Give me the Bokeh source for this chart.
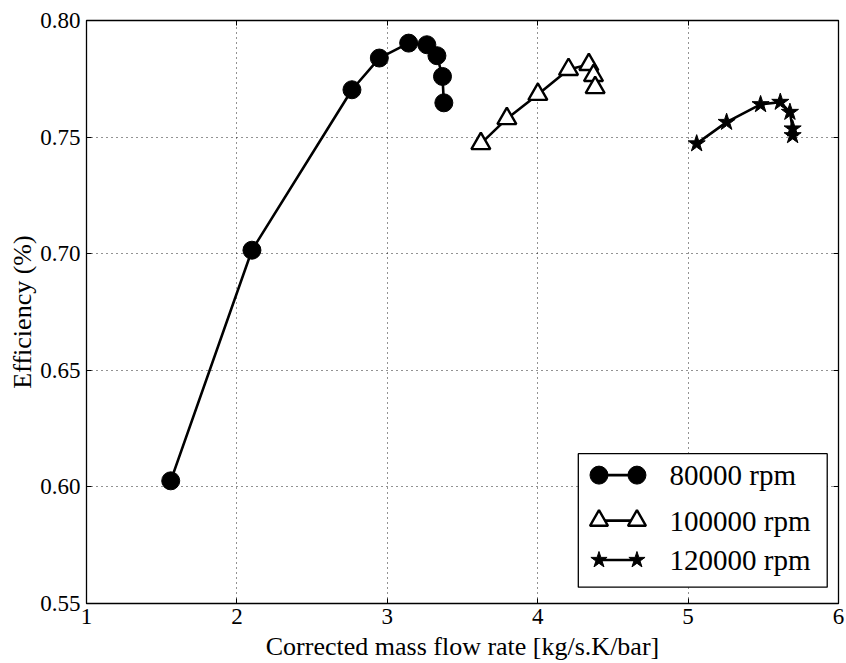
from bokeh.plotting import figure
from bokeh.models import Range1d, LinearAxis, FixedTicker, CustomJSTickFormatter
from bokeh.core.properties import value
from bokeh.embed import file_html
from bokeh.resources import INLINE

# Compressor efficiency vs corrected mass flow, one series per shaft speed
flow_80k = [1.56, 2.10, 2.765, 2.947, 3.142, 3.263, 3.330, 3.367, 3.376]
eff_80k = [0.6026, 0.7015, 0.7703, 0.7839, 0.7903, 0.7896, 0.7849, 0.7760, 0.7647]

flow_100k = [3.622, 3.795, 4.001, 4.205, 4.340, 4.371, 4.382]
eff_100k = [0.7472, 0.7579, 0.7683, 0.7790, 0.7811, 0.7764, 0.7712]

flow_120k = [5.057, 5.256, 5.482, 5.613, 5.677, 5.695, 5.695]
eff_120k = [0.7472, 0.7564, 0.7640, 0.7650, 0.7607, 0.7536, 0.7507]

series_labels = ["80000 rpm", "100000 rpm", "120000 rpm"]
x_ticks = [1, 2, 3, 4, 5, 6]
y_ticks = [0.55, 0.60, 0.65, 0.70, 0.75, 0.80]

FONT = "Liberation Serif"

p = figure(width=846, height=663, output_backend="svg", toolbar_location=None,
           x_range=Range1d(1, 6), y_range=Range1d(0.55, 0.80),
           min_border_left=86, min_border_right=8, min_border_top=20,
           min_border_bottom=60, x_axis_label="Corrected mass flow rate [kg/s.K/bar]",
           y_axis_label="Efficiency (%)")
p.background_fill_color = "white"
p.border_fill_color = "white"
p.outline_line_color = "black"
p.outline_line_width = 1.3

# mirrored axes on top/right carry inward ticks only
p.add_layout(LinearAxis(), "right")
p.add_layout(LinearAxis(), "above")

for ax in p.xaxis:
    ax.ticker = FixedTicker(ticks=x_ticks)
for ax in p.yaxis:
    ax.ticker = FixedTicker(ticks=y_ticks)
p.yaxis[0].formatter = CustomJSTickFormatter(code="return tick.toFixed(2)")

for ax in p.axis:
    ax.major_tick_in = 5
    ax.major_tick_out = 0
    ax.minor_tick_in = 0
    ax.minor_tick_out = 0
    ax.axis_line_color = "black"
    ax.major_tick_line_color = "black"
    ax.major_tick_line_width = 1
    ax.major_label_text_font = FONT
    ax.major_label_text_font_size = "23px"
    ax.major_label_text_color = "black"
    ax.axis_label_text_font = FONT
    ax.axis_label_text_font_size = "26px"
    ax.axis_label_text_font_style = "normal"
    ax.axis_label_text_color = "black"

p.right[0].major_label_overrides = {t: "" for t in y_ticks}
p.above[0].major_label_overrides = {t: "" for t in x_ticks}
p.right[0].major_label_standoff = 0
p.above[0].major_label_standoff = 0
p.xaxis[0].major_label_standoff = 3
p.xaxis[0].axis_label_standoff = 0
p.yaxis[0].major_label_standoff = 6
p.yaxis[0].axis_label_standoff = 0

p.grid.grid_line_color = "black"
p.grid.grid_line_alpha = 0.85
p.grid.grid_line_dash = "1 4"
p.grid.grid_line_width = 1
for g in p.grid:
    g.ticker = FixedTicker(ticks=x_ticks if g.dimension == 0 else y_ticks)

LW = 2.6
p.line(flow_80k, eff_80k, line_color="black", line_width=LW)
p.scatter(flow_80k, eff_80k, marker="circle", size=18, fill_color="black", line_color="black")

p.line(flow_100k, eff_100k, line_color="black", line_width=LW)
p.scatter(flow_100k, eff_100k, marker="triangle", size=19, fill_color="white",
          line_color="black", line_width=2.4)

p.line(flow_120k, eff_120k, line_color="black", line_width=LW)
p.scatter(flow_120k, eff_120k, marker="star", size=18, fill_color="black", line_color="black")

# legend drawn in frame-fraction coordinates
p.extra_x_ranges = {"leg": Range1d(0, 1)}
p.extra_y_ranges = {"leg": Range1d(0, 1)}
p.quad(left=[0.654], right=[0.985], bottom=[0.028], top=[0.257],
       fill_color="white", line_color="black", line_width=1.3,
       x_range_name="leg", y_range_name="leg")

rows = [0.2202, 0.1422, 0.0746]
styles = [dict(marker="circle", size=18, fill_color="black", line_color="black", line_width=1),
          dict(marker="triangle", size=18, fill_color="white", line_color="black", line_width=2.4),
          dict(marker="star", size=17, fill_color="black", line_color="black", line_width=1)]
mx0, mx1, tx = 0.6815, 0.732, 0.7753
for ry, st, lab in zip(rows, styles, series_labels):
    p.line([mx0, mx1], [ry, ry], line_color="black", line_width=LW,
           x_range_name="leg", y_range_name="leg")
    p.scatter([mx0, mx1], [ry, ry], x_range_name="leg", y_range_name="leg", **st)
    p.text([tx], [ry], text=[lab], text_font=value(FONT), text_font_size="29px",
           text_baseline="middle", text_color="black",
           x_range_name="leg", y_range_name="leg")

open("out.html", "w").write(file_html(p, INLINE))
